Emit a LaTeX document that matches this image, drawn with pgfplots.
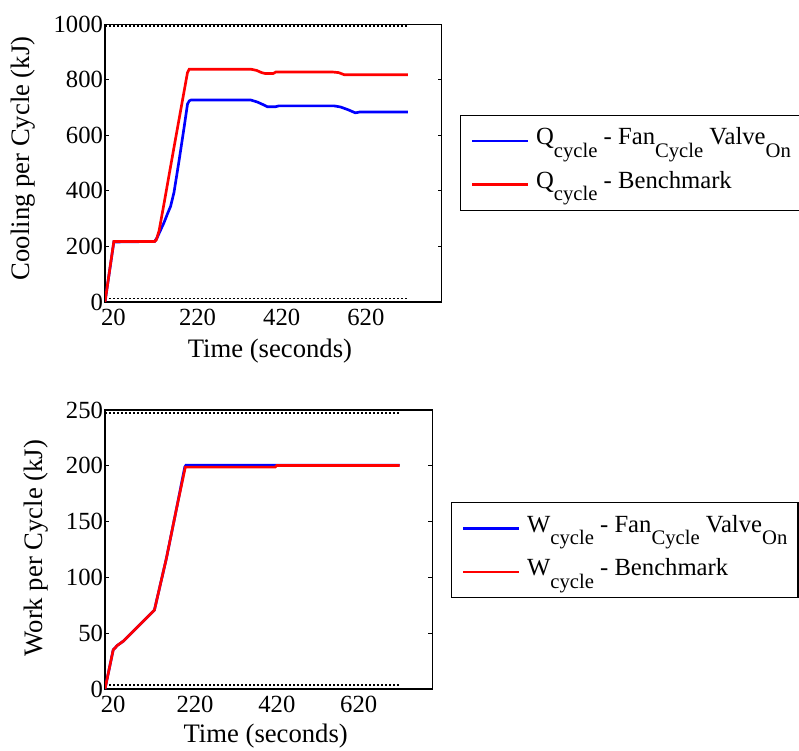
\documentclass[border=0pt]{standalone}
\usepackage{fontspec}
\setmainfont{LiberationSerif}[Extension=.ttf, UprightFont=*-Regular, BoldFont=*-Bold, ItalicFont=*-Italic]
\usepackage{pgfplots}
\pgfplotsset{compat=1.18}

% subscripts set low and slightly smaller, as in the plotting software's tex labels
\newcommand{\sbs}[1]{\raisebox{-9.5pt}{\fontsize{15.5}{15.5}\selectfont #1}}

\definecolor{qblue}{RGB}{0,0,255}
\definecolor{qred}{RGB}{255,0,0}

\pgfplotsset{
  panel/.style={
    scale only axis,
    axis line style={line width=0.9pt},
    tick align=inside,
    tick pos=both,
    major tick length=3pt,
    tick style={line width=0.8pt, black},
    xtick style={draw=none},
    xmin=0, xmax=800,
    xtick={20,220,420,620},
    /pgf/number format/assume math mode=true,
    /pgf/number format/1000 sep={},
    tick label style={font=\fontsize{18.5}{20}\selectfont},
    label style={font=\fontsize{20}{22}\selectfont},
    xticklabel style={yshift=-2pt},
    yticklabel style={xshift=2pt},
    legend cell align=left,
    legend image code/.code={\draw[##1, line width=1.7pt] (0pt,0pt) -- (42pt,0pt);},
    legend style={
      draw=black, line width=0.8pt,
      anchor=north west,
      inner xsep=8pt, inner ysep=10pt,
      row sep=14pt,
      /tikz/column sep=5pt,
      font=\fontsize{18.5}{20}\selectfont,
      nodes={inner sep=0pt, text height=12pt, text depth=6.5pt},
    },
  },
  edge/.style={black, line width=1.2pt, dash pattern=on 1.2pt off 1.8pt, forget plot},
}

\begin{document}
\begin{tikzpicture}[x=1pt,y=1pt]
\useasboundingbox (0,0) rectangle (599.25,562.5);

% ---- cooling delivered per cycle ----
\begin{axis}[panel,
  at={(78.75pt,336pt)}, anchor=south west,
  width=252.5pt, height=208.3pt,
  ymin=0, ymax=1000, ytick={0,200,400,600,800,1000},
  xlabel={Time (seconds)}, ylabel={Cooling per Cycle (kJ)},
  xlabel style={at={(axis description cs:0.49,-0.178)}, anchor=center},
  ylabel style={at={(axis description cs:-0.2436,0.517)}, anchor=center},
  legend style={at={(axis description cs:1.0545,0.6733)}},
]
\addplot[edge] coordinates {(0,993) (720,993)};
\addplot[edge] coordinates {(0,12) (720,12)};
\addplot[qblue, line width=2pt] coordinates {
  (0,0) (21,216) (118,218) (124,232) (130,252) (140,285) (148.6,318)
  (156,345) (164,395) (176,509) (188,629) (196,712) (200,724) (204,727)
  (347,727) (362,720) (378,709) (386,703) (405,703) (413,706) (545,706)
  (560,702) (578,692) (595,681) (605,684) (720,684)};
\addlegendentry{Q\sbs{cycle} - Fan\sbs{Cycle} Valve\sbs{On}}
\addplot[qred, line width=2pt] coordinates {
  (0,0) (21,218) (118,218) (122,224) (128.6,257) (140,352) (152,455)
  (164,557) (176,658) (186,742) (196,826) (200,838) (347,838) (360,834)
  (372,826) (380,823) (400,823) (406,828) (541,828) (555,826) (569,818)
  (720,818)};
\addlegendentry{Q\sbs{cycle} - Benchmark}
\end{axis}

% ---- work input per cycle ----
\begin{axis}[panel,
  at={(78.75pt,45.75pt)}, anchor=south west,
  width=245.5pt, height=209.25pt,
  ymin=0, ymax=250, ytick={0,50,100,150,200,250},
  xlabel={Time (seconds)}, ylabel={Work per Cycle (kJ)},
  xlabel style={at={(axis description cs:0.491,-0.168)}, anchor=center},
  ylabel style={at={(axis description cs:-0.2108,0.505)}, anchor=center},
  legend style={at={(axis description cs:1.057,0.669)}},
]
\addplot[edge] coordinates {(0,247.5) (720,247.5)};
\addplot[edge] coordinates {(0,3.5) (720,3.5)};
\addplot[qblue, line width=2pt] coordinates {
  (0,0) (20,35) (30,39) (46,43.2) (120.7,70.6) (150,117) (175,162)
  (195,199) (198,200.6) (720,200.6)};
\addlegendentry{W\sbs{cycle} - Fan\sbs{Cycle} Valve\sbs{On}}
\addplot[qred, line width=2pt] coordinates {
  (0,0) (20,35) (30,39) (46,43.2) (120.7,70.6) (150,117) (175,162)
  (196.3,198.8) (416,198.8) (420,200.3) (720,200.3)};
\addlegendentry{W\sbs{cycle} - Benchmark}
\end{axis}
\end{tikzpicture}
\end{document}
